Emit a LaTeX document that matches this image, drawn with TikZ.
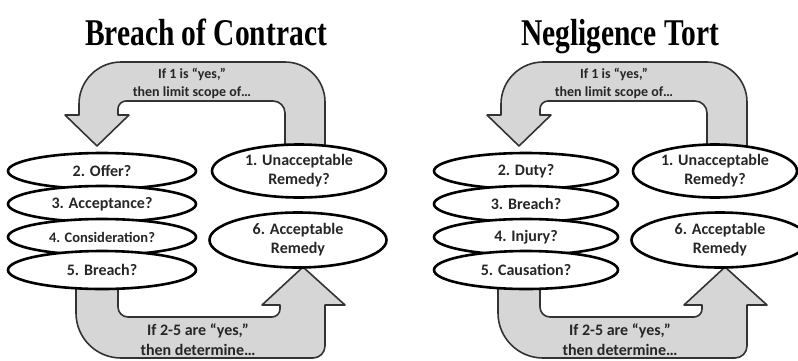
\documentclass[tikz,border=0pt]{standalone}
\usepackage{fontspec}
\setmainfont{Carlito}
\newfontfamily\headfont{Liberation Serif}
\usetikzlibrary{shapes.geometric, positioning}

\begin{document}
\begin{tikzpicture}[
    x=1pt, y=-1pt,
    question/.style={ellipse, draw, line width=2.6pt, fill=white, inner sep=0pt, align=center, text=black!85, font=\bfseries\fontsize{16}{19}\selectfont},
    stack/.style={question, minimum width=188, minimum height=36},
    bigarrow/.style={draw=black!80, line width=1.6pt, fill=black!16, line join=round},
    arrowtext/.style={align=center, text=black!85, font=\bfseries\fontsize{14}{18}\selectfont},
    heading/.style={anchor=base, font=\headfont\bfseries\fontsize{29.5}{31}\selectfont}
]
\useasboundingbox (0,0) rectangle (798,360);
\clip (0,0) rectangle (798,360);

% Headings
\node[heading] (contract) at (206,45) {\scalebox{1}[1.28]{Breach of Contract}};
\node[heading] (tort) at (620,45) {\scalebox{1}[1.28]{Negligence Tort}};

% Block arrows, same in both panels
\foreach \dx in {0,422} {
\begin{scope}[xshift=\dx]
  \draw[bigarrow] (285,150) -- (285,113) arc[start angle=0, end angle=-90, radius=12]
    -- (126,101) arc[start angle=-90, end angle=-180, radius=8]
    -- (118,115) -- (129,115) -- (97,146) -- (65,115) -- (79,115)
    -- (79,104) arc[start angle=180, end angle=270, radius=42]
    -- (285,62) arc[start angle=270, end angle=360, radius=40]
    -- (325,150) -- cycle;
  \draw[bigarrow] (118,285) -- (118,307) arc[start angle=180, end angle=90, radius=10]
    -- (272,317) arc[start angle=90, end angle=0, radius=8]
    -- (280,305) -- (262,305) -- (303,267) -- (345,305) -- (325,305)
    -- (325,346) arc[start angle=0, end angle=90, radius=12]
    -- (121,358) arc[start angle=90, end angle=180, radius=45]
    -- (76,285) -- cycle;
  \node[arrowtext] (limit\dx) at (192,83) {If 1 is “yes,”\\then limit scope of…};
  \node[arrowtext, font=\bfseries\fontsize{16}{20}\selectfont] (determine\dx) at (198,340) {If 2-5 are “yes,”\\then determine…};
\end{scope}
}

% Breach of Contract
\node[stack] (offer) at (102,171) {2. Offer?};
\node[stack] (accept) at (102,204) {3. Acceptance?};
\node[stack, font=\bfseries\fontsize{14.5}{17}\selectfont] (consid) at (102,237) {4. Consideration?};
\node[stack, minimum height=38] (breachc) at (102,270) {5. Breach?};
\node[question, minimum width=174, minimum height=53] (unaccc) at (299,171) {1. Unacceptable\\Remedy?};
\node[question, minimum width=177, minimum height=55] (accc) at (298,240) {6. Acceptable\\Remedy};

% Negligence Tort
\node[stack, minimum width=184] (duty) at (526,171) {2. Duty?};
\node[stack, minimum width=184] (breacht) at (526,204) {3. Breach?};
\node[stack, minimum width=184] (injury) at (526,237) {4. Injury?};
\node[stack, minimum width=184, minimum height=38] (cause) at (526,270) {5. Causation?};
\node[question, minimum width=164, minimum height=53] (unacct) at (715,171) {1. Unacceptable\\Remedy?};
\node[question, minimum width=177, minimum height=55] (acct) at (720,240) {6. Acceptable\\Remedy};

\end{tikzpicture}
\end{document}
